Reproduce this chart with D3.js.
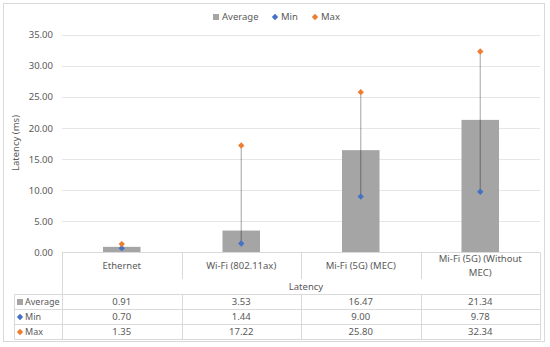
<!DOCTYPE html>
<html>
<head>
<meta charset="utf-8">
<script src="https://cdn.jsdelivr.net/npm/d3@7"></script>
<style>
  body { margin: 0; background: #fff; }
  text { font-family: "Noto Sans", "Open Sans", sans-serif; fill: #595959; }
</style>
</head>
<body>
<div id="chart"></div>
<script>
// data
var categories = ["Ethernet", "Wi-Fi (802.11ax)", "Mi-Fi (5G) (MEC)", "Mi-Fi (5G) (Without MEC)"];
var avgValues = [0.91, 3.53, 16.47, 21.34];
var minValues = [0.70, 1.44, 9.00, 9.78];
var maxValues = [1.35, 17.22, 25.80, 32.34];
var yTicks = [0, 5, 10, 15, 20, 25, 30, 35];

var colors = {avg: "#a5a5a5", min: "#4472c4", max: "#ed7d31"};

var W = 550, H = 347;
var plotLeft = 62, plotRight = 540, plotTop = 35, plotBottom = 252.5;

var svg = d3.select("#chart").append("svg")
  .attr("width", W).attr("height", H);

// outer frame
svg.append("rect")
  .attr("x", 3.5).attr("y", 3.5).attr("width", 541).attr("height", 338)
  .attr("fill", "#fff").attr("stroke", "#d9d9d9");

var x = d3.scaleBand().domain(categories).range([plotLeft, plotRight]).padding(0);
var y = d3.scaleLinear().domain([0, 35]).range([plotBottom, plotTop]);

// gridlines
svg.append("g").selectAll("line").data(yTicks.slice(1)).join("line")
  .attr("x1", plotLeft).attr("x2", plotRight)
  .attr("y1", d => Math.round(y(d)) + 0.5).attr("y2", d => Math.round(y(d)) + 0.5)
  .attr("stroke", "#e6e6e6");

// y tick labels
svg.append("g").selectAll("text").data(yTicks).join("text")
  .attr("x", 53).attr("y", d => y(d)).attr("dy", "0.35em")
  .attr("text-anchor", "end").attr("font-size", 9.5)
  .text(d => d.toFixed(2));

// y title
svg.append("text")
  .attr("transform", "translate(19,143) rotate(-90)")
  .attr("text-anchor", "middle").attr("font-size", 9.5)
  .text("Latency (ms)");

// bars
var bw = x.bandwidth() * 0.314;
svg.append("g").selectAll("rect").data(categories).join("rect")
  .attr("x", (d) => x(d) + x.bandwidth() / 2 - bw / 2)
  .attr("y", (d, i) => y(avgValues[i]))
  .attr("width", bw)
  .attr("height", (d, i) => y(0) - y(avgValues[i]))
  .attr("fill", colors.avg);

// high-low lines
svg.append("g").selectAll("line").data(categories).join("line")
  .attr("x1", d => x(d) + x.bandwidth() / 2).attr("x2", d => x(d) + x.bandwidth() / 2)
  .attr("y1", (d, i) => y(minValues[i])).attr("y2", (d, i) => y(maxValues[i]))
  .attr("stroke", "rgba(0,0,0,0.3)").attr("stroke-width", 1.2);

var diamond = d3.symbol().type(d3.symbolDiamond2).size(26);

function markers(vals, color) {
  svg.append("g").selectAll("path").data(categories).join("path")
    .attr("d", diamond)
    .attr("transform", (d, i) => "translate(" + (x(d) + x.bandwidth() / 2) + "," + y(vals[i]) + ")")
    .attr("fill", color);
}
markers(minValues, colors.min);
markers(maxValues, colors.max);

// axis line
svg.append("line")
  .attr("x1", plotLeft).attr("x2", plotRight).attr("y1", 252.5).attr("y2", 252.5)
  .attr("stroke", "#d9d9d9");

// data table
var rowTop = 294.5, rowH = 15;
var rows = [
  {name: "Average", vals: avgValues, color: colors.avg, shape: "square"},
  {name: "Min", vals: minValues, color: colors.min, shape: "diamond"},
  {name: "Max", vals: maxValues, color: colors.max, shape: "diamond"}
];

var tbl = svg.append("g").attr("stroke", "#d9d9d9");
// vertical lines in the category area
[plotLeft].concat(categories.map(d => x(d) + x.bandwidth())).forEach(function(xx, i) {
  var xv = Math.round(xx) + 0.5;
  tbl.append("line").attr("x1", xv).attr("x2", xv)
    .attr("y1", 252.5).attr("y2", i === 0 || i === 4 ? rowTop + rowH * 3 : 279);
  tbl.append("line").attr("x1", xv).attr("x2", xv)
    .attr("y1", rowTop).attr("y2", rowTop + rowH * 3);
});
tbl.append("line").attr("x1", 14.5).attr("x2", 14.5)
  .attr("y1", rowTop).attr("y2", rowTop + rowH * 3);
d3.range(4).forEach(function(i) {
  tbl.append("line").attr("x1", 14.5).attr("x2", plotRight + 0.5)
    .attr("y1", rowTop + i * rowH).attr("y2", rowTop + i * rowH);
});

// category labels
var catText = svg.append("g").selectAll("text").data(categories).join("text")
  .attr("x", d => x(d) + x.bandwidth() / 2)
  .attr("text-anchor", "middle").attr("font-size", 9.5);
catText.each(function(d) {
  var t = d3.select(this);
  var lines = d.length > 20 ? ["Mi-Fi (5G) (Without", "MEC)"] : [d];
  var y0 = lines.length > 1 ? 262 : 269;
  lines.forEach(function(s, k) {
    t.append("tspan").attr("x", x(d) + x.bandwidth() / 2).attr("y", y0 + k * 14).text(s);
  });
});

svg.append("text")
  .attr("x", 306).attr("y", 290).attr("text-anchor", "middle").attr("font-size", 9.5)
  .text("Latency");

rows.forEach(function(r, i) {
  var cy = rowTop + i * rowH + rowH / 2;
  if (r.shape === "square") {
    svg.append("rect").attr("x", 17).attr("y", cy - 3).attr("width", 6).attr("height", 6)
      .attr("fill", r.color);
  } else {
    svg.append("path").attr("d", diamond)
      .attr("transform", "translate(20," + cy + ")").attr("fill", r.color);
  }
  svg.append("text").attr("x", 25).attr("y", cy).attr("dy", "0.35em")
    .attr("font-size", 9).text(r.name);
  svg.append("g").selectAll("text").data(categories).join("text")
    .attr("x", d => x(d) + x.bandwidth() / 2).attr("y", cy).attr("dy", "0.35em")
    .attr("text-anchor", "middle").attr("font-size", 9.5)
    .text((d, j) => r.vals[j].toFixed(2));
});

// legend
var lg = svg.append("g").attr("transform", "translate(0,17)");
lg.append("rect").attr("x", 213).attr("y", -3).attr("width", 6).attr("height", 6).attr("fill", colors.avg);
lg.append("text").attr("x", 222).attr("dy", "0.35em").attr("font-size", 9.5).text("Average");
lg.append("path").attr("d", diamond).attr("transform", "translate(275,0)").attr("fill", colors.min);
lg.append("text").attr("x", 281).attr("dy", "0.35em").attr("font-size", 9.5).text("Min");
lg.append("path").attr("d", diamond).attr("transform", "translate(315,0)").attr("fill", colors.max);
lg.append("text").attr("x", 321).attr("dy", "0.35em").attr("font-size", 9.5).text("Max");
</script>
</body>
</html>
